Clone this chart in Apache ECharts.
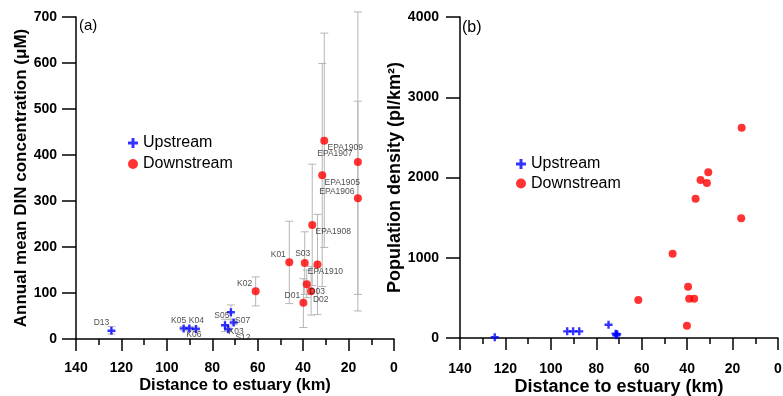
<!DOCTYPE html>
<html><head><meta charset="utf-8">
<script src="https://cdn.jsdelivr.net/npm/echarts@6/dist/echarts.min.js"></script>
<style>html,body{margin:0;padding:0;background:#fff}#c{width:783px;height:396px}</style>
</head><body><div id="c"></div>
<script>
// ---- Data (panel a): distance (km), annual mean DIN (uM), error range ----
var upNames   = ['D13','K05','K04','K06','S05','S12','S07','K03'];
var upDist    = [124.4, 92.6, 90.1, 87.2, 71.8, 74.4, 70.6, 73.0];
var upDIN     = [18, 23, 23, 22, 58, 30, 36, 21];
var upLow     = [11, 19, 19, 18, 42, 16, 31, 16];
var upHigh    = [27, 27, 27, 26, 74, 43, 41, 26];

var downNames = ['K02','K01','S03','D01','D02','D03','EPA1908','EPA1910','EPA1909','EPA1905','EPA1907','EPA1906'];
var downDist  = [60.9, 46.1, 39.3, 39.9, 38.4, 36.5, 36.0, 33.7, 30.7, 31.6, 15.9, 15.9];
var downDIN   = [104, 167, 165, 79, 119, 104, 248, 162, 431, 356, 385, 306];
var downLow   = [72, 77, 97, 25, 90, 52, 116, 53, 199, 114, 61, 97];
var downHigh  = [135, 256, 233, 131, 150, 158, 380, 271, 665, 599, 711, 517];

// ---- Data (panel b): distance (km), population density (pl/km2) ----
var upDistB   = [124.7, 92.8, 90.2, 87.5, 74.6, 71.5, 71.2, 70.8];
var upPop     = [10, 83, 83, 83, 166, 54, 33, 46];
var downDistB = [16.0, 16.2, 30.7, 34.1, 31.3, 36.3, 46.4, 39.6, 39.1, 36.9, 61.5, 40.1];
var downPop   = [2621, 1491, 2065, 1969, 1931, 1736, 1051, 640, 490, 490, 474, 154];

// axis ticks
var xTicks = [0, 20, 40, 60, 80, 100, 120, 140];
var yTicksA = [0, 100, 200, 300, 400, 500, 600, 700];
var yTicksB = [0, 1000, 2000, 3000, 4000];

// ---- label placement (style only) ----
var labelOffset = {
  D13:[-10,-8], K05:[-5,-8], K04:[7,-8], K06:[-2,6], S05:[-9,3], S12:[18,12], S07:[9,-2], K03:[8,2],
  K02:[-11,-8], K01:[-11,-8], S03:[-2,-9], D01:[-11,-7], D02:[14,15], D03:[6,0],
  EPA1908:[21,7], EPA1910:[8,7], EPA1909:[21,7], EPA1905:[20,7], EPA1907:[-23,-8], EPA1906:[-21,-7]
};

var FONT = "'Liberation Sans', Arial, sans-serif";
var PLUS = 'path://M3.5,0H6.5V3.5H10V6.5H6.5V10H3.5V6.5H0V3.5H3.5Z';

function pts(names, xs, ys) {
  return xs.map(function (x, i) {
    var d = {value: [x, ys[i]]};
    if (names) {
      d.name = names[i];
      d.label = {show: true, offset: labelOffset[names[i]] || [0, 0]};
    }
    return d;
  });
}
function errs(xs, lo, hi) { return xs.map(function (x, i) { return [x, lo[i], hi[i]]; }); }

function errRender(params, api) {
  var x = api.value(0), lo = api.value(1), hi = api.value(2);
  var a = api.coord([x, lo]), b = api.coord([x, hi]);
  var hw = 4, st = {stroke: '#b5b5b5', lineWidth: 1};
  return {type: 'group', children: [
    {type: 'line', shape: {x1: a[0], y1: a[1], x2: b[0], y2: b[1]}, style: st},
    {type: 'line', shape: {x1: a[0] - hw, y1: a[1], x2: a[0] + hw, y2: a[1]}, style: st},
    {type: 'line', shape: {x1: b[0] - hw, y1: b[1], x2: b[0] + hw, y2: b[1]}, style: st}
  ]};
}

function xAxis(gi, nameSize, nameGap, margin) {
  return {
    gridIndex: gi, type: 'value', inverse: true, min: 0, max: 140, interval: 20,
    name: 'Distance to estuary (km)', nameLocation: 'middle', nameGap: nameGap, nameMoveOverlap: false,
    nameTextStyle: {fontFamily: FONT, fontWeight: 'bold', fontSize: nameSize, color: '#000'},
    axisLine: {show: true, onZero: false, lineStyle: {color: '#000', width: 1.5}},
    axisTick: {show: true, inside: false, length: 12, lineStyle: {color: '#000', width: 1.5}},
    minorTick: {show: true, splitNumber: 2, length: 6, lineStyle: {color: '#000', width: 1.5}},
    axisLabel: {fontFamily: FONT, fontWeight: 'bold', fontSize: 14, color: '#000', margin: margin,
      formatter: function (v) { return xTicks.indexOf(v) >= 0 ? String(v) : ''; }},
    splitLine: {show: false}
  };
}
function yAxis(gi, max, interval, name, nameSize, nameGap, margin, ticks) {
  return {
    gridIndex: gi, type: 'value', min: 0, max: max, interval: interval,
    name: name, nameLocation: 'middle', nameGap: nameGap, nameMoveOverlap: false,
    nameTextStyle: {fontFamily: FONT, fontWeight: 'bold', fontSize: nameSize, color: '#000'},
    axisLine: {show: true, onZero: false, lineStyle: {color: '#000', width: 1.5}},
    axisTick: {show: true, inside: false, length: 14, lineStyle: {color: '#000', width: 1.5}},
    axisLabel: {fontFamily: FONT, fontWeight: 'bold', fontSize: 14, color: '#000', margin: margin,
      formatter: function (v) { return ticks.indexOf(v) >= 0 ? String(v) : ''; }},
    splitLine: {show: false}
  };
}

var labelStyle = {position: 'inside', fontFamily: FONT, fontSize: 8.5, color: '#222',
  formatter: function (p) { return p.name; }};

var chart = echarts.init(document.getElementById('c'), null, {renderer: 'canvas'});
chart.setOption({
  animation: false,
  backgroundColor: '#fff',
  grid: [
    {left: 76, top: 17, width: 318, height: 322, containLabel: false, outerBoundsMode: 'none'},
    {left: 460, top: 17, width: 318, height: 321, containLabel: false, outerBoundsMode: 'none'}
  ],
  xAxis: [xAxis(0, 16.5, 38, 22), xAxis(1, 18, 40, 24)],
  yAxis: [
    yAxis(0, 700, 100, 'Annual mean DIN concentration (\u03bcM)', 17, 46, 19, yTicksA),
    yAxis(1, 4000, 1000, 'Population density (pl/km\u00b2)', 18, 56, 21, yTicksB)
  ],
  legend: [
    {orient: 'vertical', left: 123, top: 130, itemWidth: 10, itemHeight: 10, itemGap: 5,
      data: ['Upstream', 'Downstream'], selectedMode: false,
      textStyle: {fontFamily: FONT, fontSize: 16, color: '#000', lineHeight: 16}},
    {orient: 'vertical', left: 511, top: 151, itemWidth: 10, itemHeight: 10, itemGap: 3.5,
      data: ['Upstream', 'Downstream'], selectedMode: false,
      textStyle: {fontFamily: FONT, fontSize: 16, color: '#000', lineHeight: 16}}
  ],
  graphic: [
    {type: 'text', left: 79, top: 18, style: {text: '(a)', font: '15px ' + FONT, fill: '#000'}},
    {type: 'text', left: 462, top: 20, style: {text: '(b)', font: '16px ' + FONT, fill: '#000'}}
  ],
  series: [
    {type: 'custom', name: 'errUp', xAxisIndex: 0, yAxisIndex: 0, renderItem: errRender,
      encode: {x: 0, y: [1, 2]}, data: errs(upDist, upLow, upHigh), z: 1, silent: true},
    {type: 'custom', name: 'errDown', xAxisIndex: 0, yAxisIndex: 0, renderItem: errRender,
      encode: {x: 0, y: [1, 2]}, data: errs(downDist, downLow, downHigh), z: 1, silent: true},
    {type: 'scatter', name: 'Upstream', xAxisIndex: 0, yAxisIndex: 0, symbol: PLUS, symbolSize: 8,
      itemStyle: {color: '#0000ff'}, label: labelStyle, data: pts(upNames, upDist, upDIN), z: 3},
    {type: 'scatter', name: 'Downstream', xAxisIndex: 0, yAxisIndex: 0, symbol: 'circle', symbolSize: 8,
      itemStyle: {color: '#ff0000'}, label: labelStyle, data: pts(downNames, downDist, downDIN), z: 3},
    {type: 'scatter', name: 'Upstream', xAxisIndex: 1, yAxisIndex: 1, symbol: PLUS, symbolSize: 8,
      itemStyle: {color: '#0000ff'}, data: pts(null, upDistB, upPop), z: 3},
    {type: 'scatter', name: 'Downstream', xAxisIndex: 1, yAxisIndex: 1, symbol: 'circle', symbolSize: 8,
      itemStyle: {color: '#ff0000'}, data: pts(null, downDistB, downPop), z: 3}
  ]
});
</script></body></html>
